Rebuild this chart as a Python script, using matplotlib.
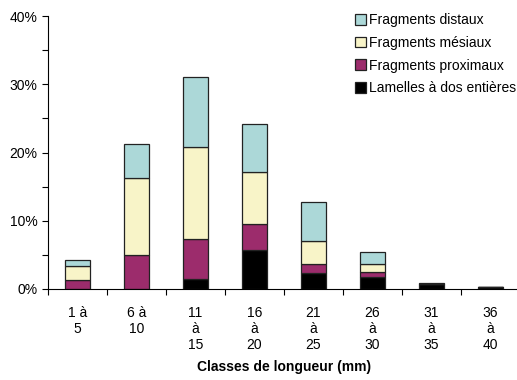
import matplotlib.pyplot as plt
import numpy as np

plt.rcParams['font.family'] = ['Liberation Sans', 'DejaVu Sans']

# Classes de longueur (mm)
classes = ['1 à\n5', '6 à\n10', '11\nà\n15', '16\nà\n20', '21\nà\n25',
           '26\nà\n30', '31\nà\n35', '36\nà\n40']

# pourcentages par catégorie (empilés de bas en haut)
lamelles = [0.0, 0.0, 1.4, 5.7, 2.3, 1.7, 0.7, 0.35]
proximaux = [1.3, 5.0, 5.9, 3.8, 1.3, 0.8, 0.0, 0.0]
mesiaux = [2.0, 11.2, 13.5, 7.6, 3.4, 1.1, 0.0, 0.0]
distaux = [0.9, 5.1, 10.2, 7.1, 5.7, 1.8, 0.2, 0.0]

series = [
    ('Lamelles à dos entières', lamelles, '#000000'),
    ('Fragments proximaux', proximaux, '#9c2c6c'),
    ('Fragments mésiaux', mesiaux, '#f8f4c8'),
    ('Fragments distaux', distaux, '#acd8d8'),
]

fig = plt.figure(figsize=(5.17, 3.80), dpi=100)
ax = fig.add_axes([48 / 517, 91 / 380, 472 / 517, 273 / 380])

x = np.arange(len(classes))
bottom = np.zeros(len(classes))
handles = []
for label, vals, color in series:
    vals = np.array(vals)
    b = ax.bar(x, vals, width=0.41, bottom=bottom, color=color,
               edgecolor='#222222', linewidth=0.9, label=label)
    handles.append(b)
    bottom += vals

ax.set_xlim(-0.5, 7.5)
ax.set_ylim(0, 40)
ax.set_yticks([0, 10, 20, 30, 40])
ax.set_yticklabels(['0%', '10%', '20%', '30%', '40%'], fontsize=10)
ax.set_yticks([5, 15, 25, 35], minor=True)
ax.tick_params(axis='y', which='both', length=4, direction='out', width=0.8)

# ticks between categories, labels centred under bars
ax.set_xticks(np.arange(-0.5, 8, 1.0))
ax.set_xticklabels([])
ax.set_xticks(x, minor=True)
ax.set_xticklabels(classes, minor=True, fontsize=10, linespacing=1.2,
                   va='top')
ax.tick_params(axis='x', which='major', length=4, width=0.8)
ax.tick_params(axis='x', which='minor', length=0, pad=12)

for side in ['top', 'right']:
    ax.spines[side].set_visible(False)
for side in ['left', 'bottom']:
    ax.spines[side].set_linewidth(0.8)
ax.spines['bottom'].set_clip_on(False)

ax.set_xlabel('Classes de longueur (mm)', fontsize=10, fontweight='bold',
              labelpad=6)

leg = ax.legend(handles[::-1], [s[0] for s in series][::-1],
                loc='upper left', bbox_to_anchor=(0.638, 1.03),
                frameon=False, fontsize=10, handlelength=0.8,
                handleheight=0.8, handletextpad=0.2, labelspacing=0.62,
                borderaxespad=0)

fig.savefig('out.png', dpi=100)
